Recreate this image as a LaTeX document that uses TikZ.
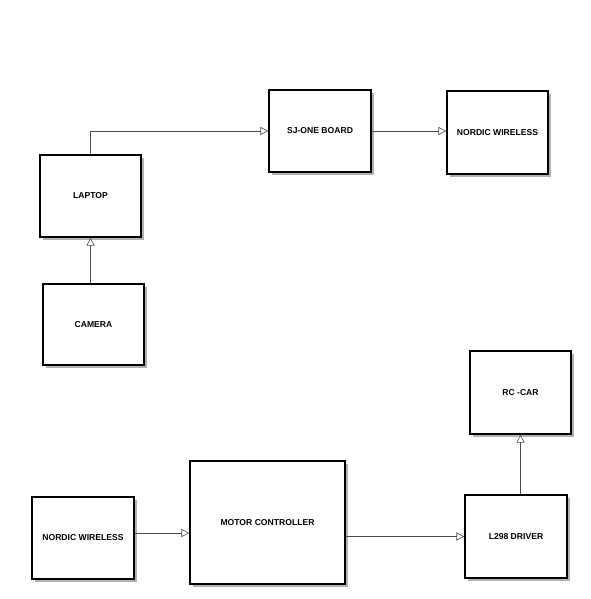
\documentclass[tikz,border=0pt]{standalone}
\usepackage{fontspec}
\setmainfont{Liberation Sans}
\usetikzlibrary{arrows.meta,shadows}
\tikzset{
  block/.style={draw=black, line width=1.2pt, fill=white, inner sep=0pt,
    font=\fontsize{8.6}{10}\selectfont\bfseries,
    drop shadow={shadow xshift=3pt, shadow yshift=-3pt, fill=black!30, opacity=1}},
  link/.style={draw=black!70, line width=0.6pt, -{Triangle[open,length=8pt,width=8pt]}}
}
\begin{document}
\begin{tikzpicture}[x=1pt,y=-1pt]
				\useasboundingbox (0,0) rectangle (590,599);
				
				% upper chain
				\node[block, minimum width=101pt, minimum height=82pt] (laptop) at (90.5,196) {LAPTOP};
				\node[block, minimum width=102pt, minimum height=82pt] (sjone) at (320,131) {SJ-ONE BOARD};
				\node[block, minimum width=101pt, minimum height=83pt] (nordicA) at (497.5,132.5) {NORDIC WIRELESS};
				\node[block, minimum width=101pt, minimum height=81pt] (camera) at (93.5,324.5) {CAMERA};
				
				% lower chain
				\node[block, minimum width=101pt, minimum height=83pt] (rccar) at (520.5,392.5) {RC -CAR};
				\node[block, minimum width=102pt, minimum height=82pt] (nordicB) at (83,538) {NORDIC WIRELESS};
				\node[block, minimum width=155pt, minimum height=123pt] (motor) at (267.5,522.5) {MOTOR CONTROLLER};
				\node[block, minimum width=102pt, minimum height=83pt] (driver) at (516,536.5) {L298 DRIVER};
				
				\draw[link] (camera.north -| laptop.south) -- (laptop.south);
				\draw[link] (laptop.north) |- (sjone.west);
				\draw[link] (sjone.east) -- (sjone.east -| nordicA.west);
				
				\draw[link] ([yshift=5pt]nordicB.east) -- ([yshift=5pt]nordicB.east -| motor.west);
				\draw[link] (driver.west -| motor.east) -- (driver.west);
				\draw[link] (driver.north -| rccar.south) -- (rccar.south);
\end{tikzpicture}
\end{document}
